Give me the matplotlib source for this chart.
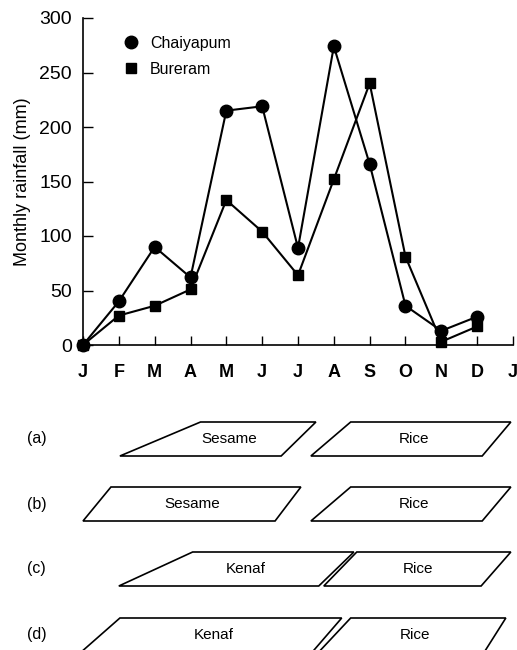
import matplotlib
matplotlib.use("Agg")
import matplotlib.pyplot as plt
from matplotlib.patches import Polygon
from matplotlib.lines import Line2D

plt.rcParams['font.family'] = ['Liberation Sans', 'DejaVu Sans']

# ---- data ----
months = ["J", "F", "M", "A", "M", "J", "J", "A", "S", "O", "N", "D", "J"]
chaiyapum = [0, 40, 90, 62, 215, 219, 89, 274, 166, 36, 13, 26]
bureram = [0, 27, 36, 51, 133, 104, 64, 152, 240, 81, 3, 17]
yticks = [0, 50, 100, 150, 200, 250, 300]

row_labels = ["(a)", "(b)", "(c)", "(d)"]
# crop blocks: (name, x bottom-left, x top-left, x top-right, x bottom-right) in months
row_crops = [
    [("Sesame", 1.03, 3.28, 6.50, 5.53), ("Rice", 6.36, 7.47, 11.94, 11.14)],
    [("Sesame", 0.00, 0.78, 6.08, 5.36), ("Rice", 6.36, 7.47, 11.94, 11.14)],
    [("Kenaf", 1.00, 3.06, 7.56, 6.58), ("Rice", 6.72, 7.64, 11.94, 11.11)],
    [("Kenaf", -0.05, 1.03, 7.22, 6.40), ("Rice", 6.58, 7.47, 11.80, 11.20)],
]

W, H = 517, 650
fig = plt.figure(figsize=(W / 100, H / 100), dpi=100)

# main chart
ax = fig.add_axes([83 / W, (H - 345) / H, 430 / W, (345 - 18) / H])
x = list(range(len(chaiyapum)))
ax.plot(x, chaiyapum, color='black', lw=1.5, marker='o', ms=9, clip_on=False, zorder=3)
ax.plot(x, bureram, color='black', lw=1.5, marker='s', ms=7, clip_on=False, zorder=3)
ax.set_xlim(0, 12)
ax.set_ylim(0, 300)
ax.set_xticks(range(len(months)))
ax.set_xticklabels(months, fontsize=13, fontweight='bold')
ax.set_yticks(yticks)
ax.set_yticklabels([str(v) for v in yticks], fontsize=14)
ax.tick_params(axis='x', direction='in', length=6.5, width=1, pad=14)
ax.tick_params(axis='y', direction='in', length=7.5, width=1, pad=8)
for s in ['top', 'right']:
    ax.spines[s].set_visible(False)
for s in ['left', 'bottom']:
    ax.spines[s].set_linewidth(1.2)
ax.set_ylabel("Monthly rainfall (mm)", fontsize=13, labelpad=6)

handles = [Line2D([], [], color='black', marker='o', ls='none', ms=9),
           Line2D([], [], color='black', marker='s', ls='none', ms=7)]
ax.legend(handles, ["Chaiyapum", "Bureram"], loc='upper left', bbox_to_anchor=(0.055, 0.99),
          frameon=False, fontsize=11.5, handletextpad=0.6, labelspacing=0.7, handlelength=1.2)

# crop calendar panel
ax2 = fig.add_axes([83 / W, 0, 430 / W, 250 / H])
ax2.set_xlim(0, 12)
ax2.set_ylim(0, 250)
ax2.axis('off')
row_centers = [211, 146, 81, 15]
half = 17
for lab, crops, yc in zip(row_labels, row_crops, row_centers):
    ax2.text(-1.3, yc, lab, fontsize=11.5, ha='center', va='center')
    for name, bl, tl, tr, br in crops:
        poly = Polygon([(bl, yc - half), (tl, yc + half), (tr, yc + half), (br, yc - half)],
                       closed=True, fill=False, ec='black', lw=1.2, clip_on=False)
        ax2.add_patch(poly)
        ax2.text((bl + tl + tr + br) / 4, yc, name, fontsize=11, ha='center', va='center')

fig.savefig("out.png", dpi=100)
